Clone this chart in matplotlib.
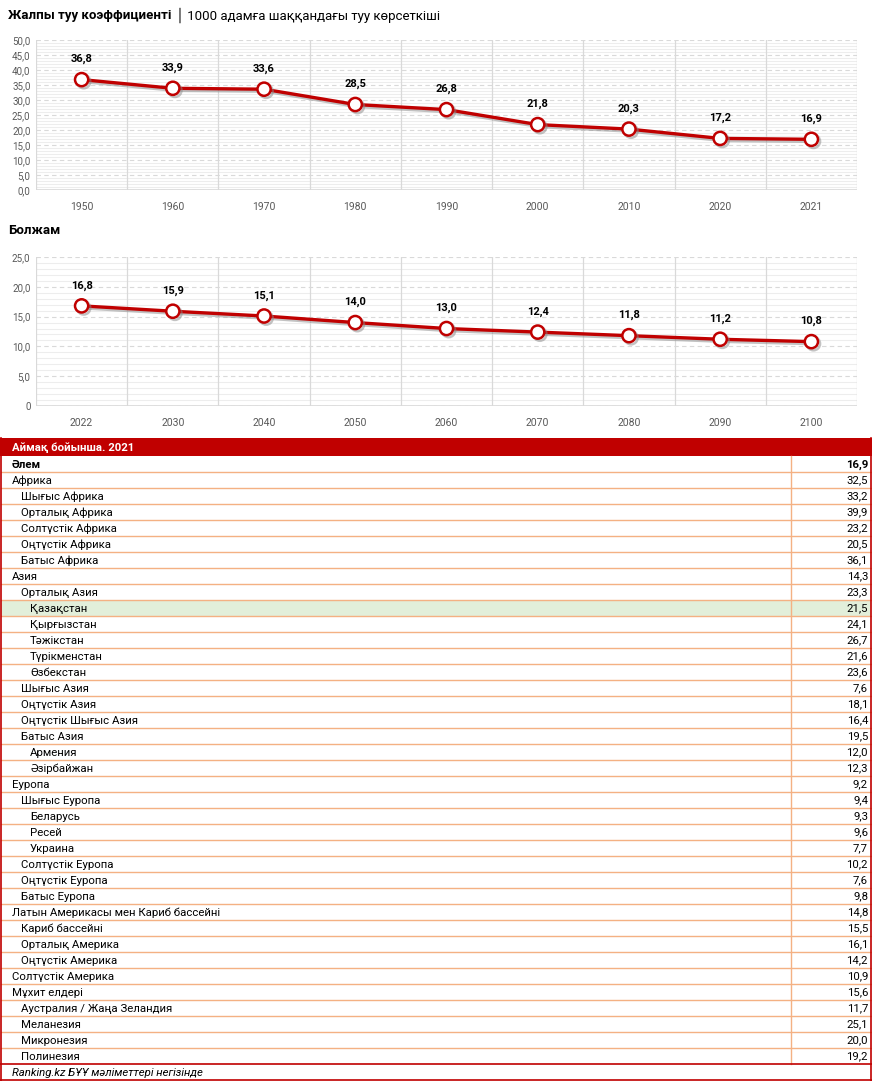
import matplotlib
matplotlib.use('Agg')
import matplotlib.pyplot as plt
import matplotlib.patheffects as pe
from matplotlib.patches import Rectangle
from matplotlib.ticker import MultipleLocator, FuncFormatter

plt.rcParams['font.family'] = ['Roboto', 'DejaVu Sans']

# --- data ---
years_hist = ['1950', '1960', '1970', '1980', '1990', '2000', '2010', '2020', '2021']
rate_hist = [36.8, 33.9, 33.6, 28.5, 26.8, 21.8, 20.3, 17.2, 16.9]

years_proj = ['2022', '2030', '2040', '2050', '2060', '2070', '2080', '2090', '2100']
rate_proj = [16.8, 15.9, 15.1, 14.0, 13.0, 12.4, 11.8, 11.2, 10.8]

regions = ['Әлем', 'Африка', 'Шығыс Африка', 'Орталық Африка', 'Солтүстік Африка',
           'Оңтүстік Африка', 'Батыс Африка', 'Азия', 'Орталық Азия', 'Қазақстан',
           'Қырғызстан', 'Тәжікстан', 'Түрікменстан', 'Өзбекстан', 'Шығыс Азия',
           'Оңтүстік Азия', 'Оңтүстік Шығыс Азия', 'Батыс Азия', 'Армения', 'Әзірбайжан',
           'Еуропа', 'Шығыс Еуропа', 'Беларусь', 'Ресей', 'Украина', 'Солтүстік Еуропа',
           'Оңтүстік Еуропа', 'Батыс Еуропа', 'Латын Америкасы мен Кариб бассейні',
           'Кариб бассейні', 'Орталық Америка', 'Оңтүстік Америка', 'Солтүстік Америка',
           'Мұхит елдері', 'Аустралия / Жаңа Зеландия', 'Меланезия', 'Микронезия', 'Полинезия']
levels = [0, 0, 1, 1, 1, 1, 1, 0, 1, 2, 2, 2, 2, 2, 1, 1, 1, 1, 2, 2,
          0, 1, 2, 2, 2, 1, 1, 1, 0, 1, 1, 1, 0, 0, 1, 1, 1, 1]
region_rate = [16.9, 32.5, 33.2, 39.9, 23.2, 20.5, 36.1, 14.3, 23.3, 21.5,
               24.1, 26.7, 21.6, 23.6, 7.6, 18.1, 16.4, 19.5, 12.0, 12.3,
               9.2, 9.4, 9.3, 9.6, 7.7, 10.2, 7.6, 9.8, 14.8,
               15.5, 16.1, 14.2, 10.9, 15.6, 11.7, 25.1, 20.0, 19.2]

RED = '#C00000'
GRID = '#D9D9D9'
ORANGE = '#F4B183'

W, H = 872, 1081
fig = plt.figure(figsize=(W / 100, H / 100), dpi=100)


def fmt(v):
    return f'{v:.1f}'.replace('.', ',')


def line_chart(top_px, bottom_px, labels, values, ymax, zero_label):
    ax = fig.add_axes([36 / W, 1 - bottom_px / H, 821 / W, (bottom_px - top_px) / H])
    x = list(range(len(labels)))
    ax.set_xlim(-0.5, len(labels) - 0.5)
    ax.set_ylim(0, ymax)
    for s in ax.spines.values():
        s.set_visible(False)
    ax.yaxis.set_major_locator(MultipleLocator(5))
    ax.yaxis.set_minor_locator(MultipleLocator(1))
    ax.yaxis.set_major_formatter(FuncFormatter(
        lambda v, p: zero_label if v == 0 else fmt(v)))
    ax.grid(which='minor', axis='y', color='#EDEDED', lw=0.8)
    ax.grid(which='major', axis='y', color=GRID, lw=0.8, ls=(0, (4, 3)))
    for b in range(len(labels) + 1):
        ax.axvline(b - 0.5, color=GRID, lw=0.9, zorder=1)
    ax.axhline(0, color=GRID, lw=1.2, zorder=1)
    ax.set_axisbelow(True)
    ax.tick_params(axis='y', which='both', length=0, labelsize=7, labelcolor='#595959', pad=4)
    ax.tick_params(axis='x', length=0, labelsize=7.5, labelcolor='#595959', pad=9)
    ax.set_xticks(x)
    ax.set_xticklabels(labels)
    shadow = [pe.SimpleLineShadow(offset=(1.5, -1.5), shadow_color='#888888', alpha=0.5),
              pe.Normal()]
    ax.plot(x, values, color=RED, lw=2.4, marker='o', markersize=9.5,
            markerfacecolor='white', markeredgecolor=RED, markeredgewidth=1.8,
            path_effects=shadow, zorder=3)
    for xi, v in zip(x, values):
        ax.annotate(fmt(v), (xi, v), xytext=(0, 11), textcoords='offset points',
                    ha='center', va='bottom', fontsize=8, fontweight='bold', color='black')
    return ax


line_chart(40, 190, years_hist, rate_hist, 50, '0,0')
line_chart(257, 406, years_proj, rate_proj, 25, '0')

# titles
fig.text(8 / W, 1 - 15 / H, 'Жалпы туу коэффициенті', fontsize=9.5, fontweight='bold',
         va='center', ha='left')
fig.text(176 / W, 1 - 15 / H, '│ 1000 адамға шаққандағы туу көрсеткіші', fontsize=9.5,
         va='center', ha='left')
fig.text(8 / W, 1 - 230 / H, 'Болжам', fontsize=9.5, fontweight='bold', va='center', ha='left')

# --- table ---
tab = fig.add_axes([0, 0, 1, 1])
tab.set_xlim(0, W)
tab.set_ylim(H, 0)
tab.axis('off')

FS = 8.2
head_top, row_h = 438, 16
tab.add_patch(Rectangle((0, head_top), W, 18, color=RED, lw=0))
tab.text(12, head_top + 9.5, 'Аймақ бойынша. 2021', color='white', fontweight='bold',
         fontsize=FS, va='center', ha='left')

y0 = head_top + 18
for i, (name, lvl, val) in enumerate(zip(regions, levels, region_rate)):
    top = y0 + i * row_h
    if name == 'Қазақстан':
        tab.add_patch(Rectangle((1, top), W - 2, row_h, color='#E2EFDA', lw=0))
    weight = 'bold' if i == 0 else 'normal'
    tab.text(12 + 9 * lvl, top + row_h / 2 + 0.5, name, fontsize=FS, fontweight=weight,
             va='center', ha='left')
    tab.text(868, top + row_h / 2 + 0.5, fmt(val), fontsize=FS, fontweight=weight,
             va='center', ha='right')
    if i > 0:
        tab.plot([1, W - 1], [top, top], color=ORANGE, lw=1)

rows_end = y0 + len(regions) * row_h
tab.plot([791, 791], [y0, rows_end], color=ORANGE, lw=1)
# footer
tab.plot([0, W], [rows_end, rows_end], color=RED, lw=1.2)
tab.plot([0, W], [H - 1, H - 1], color=RED, lw=1.2)
tab.plot([0.6, 0.6], [head_top, H], color=RED, lw=1.2)
tab.plot([W - 1, W - 1], [head_top, H], color=RED, lw=1.2)
tab.text(12, rows_end + 8.5, 'Ranking.kz БҰҰ мәліметтері негізінде', fontsize=FS,
         fontstyle='italic', va='center', ha='left')

fig.savefig('out.png', dpi=100)
